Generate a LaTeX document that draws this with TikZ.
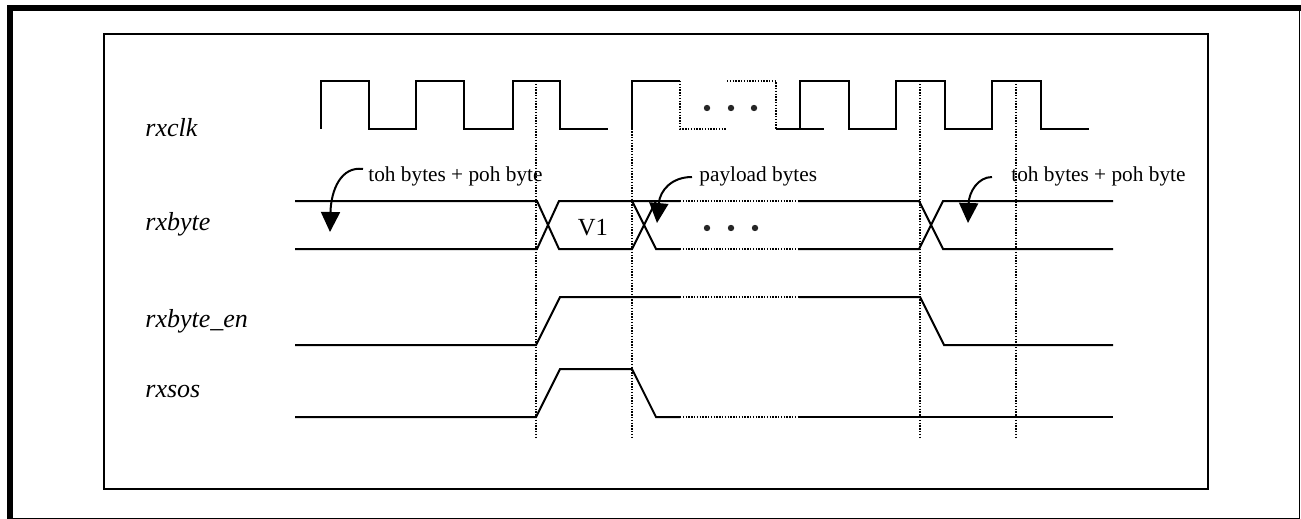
\documentclass[tikz,border=0pt]{standalone}
\usepackage{fontspec}
\setmainfont{Liberation Serif}
\usetikzlibrary{arrows.meta}
\begin{document}
\begin{tikzpicture}[x=0.5pt,y=-0.5pt,
  sigline/.style={line width=1pt,line join=miter},
  dotline/.style={line width=0.8pt,dash pattern=on 0.7pt off 0.7pt},
  signame/.style={font=\fontsize{13}{15}\selectfont\itshape,anchor=base west,inner sep=0pt},
  note/.style={font=\fontsize{10.65}{12}\selectfont,anchor=base west,inner sep=0pt},
  callout/.style={line width=1pt,-{Triangle[length=10pt,width=9.5pt]}},
  dotmark/.style={fill=black!85,draw=none}]
\useasboundingbox (0,0) rectangle (1301,519);
% frames
\draw[line width=3pt] (10,519) -- (10,8.5) -- (1301,8.5);
\draw[line width=0.6pt] (1299.5,8.5) -- (1299.5,518.3) -- (10,518.3);
\draw[line width=1pt] (104.3,33.7) rectangle (1207.7,489);
% signal names
\node[signame] (nclk) at (145,136) {rxclk};
\node[signame] (nbyte) at (145,230) {rxbyte};
\node[signame] (nen) at (145,327) {rxbyte\_en};
\node[signame] (nsos) at (145,397) {rxsos};
% vertical dotted guides
\foreach \gx in {536,632,920,1016} \draw[dotline] (\gx,81) -- (\gx,438);
% clock
\draw[sigline] (321,129) -- (321,81) -- (369,81) -- (369,129) -- (416,129) -- (416,81) -- (464,81) -- (464,129) -- (513,129) -- (513,81) -- (560,81) -- (560,129) -- (608,129);
\draw[sigline] (632,129) -- (632,81) -- (680,81);
\draw[dotline] (680,81) -- (680,129) -- (727,129);
\draw[dotline] (727,81) -- (776,81) -- (776,129);
\draw[sigline] (776,129) -- (824,129);
\draw[sigline] (800,129) -- (800,81) -- (849,81) -- (849,129) -- (896,129) -- (896,81) -- (945,81) -- (945,129) -- (992,129) -- (992,81) -- (1041,81) -- (1041,129) -- (1089,129);
\foreach \dx in {707,731,754} \fill[dotmark] (\dx,108) circle (3.2);
% rxbyte
\draw[sigline] (295,201) -- (537,201) -- (559,249) -- (632,249) -- (656,201);
\draw[sigline] (295,249) -- (537,249) -- (559,201) -- (680,201);
\draw[sigline] (632,201) -- (656,249) -- (680,249);
\draw[dotline] (680,201) -- (798,201);
\draw[dotline] (680,249) -- (798,249);
\draw[sigline] (798,201) -- (919,201) -- (943,249) -- (1113,249);
\draw[sigline] (798,249) -- (919,249) -- (943,201) -- (1113,201);
\node[font=\fontsize{12.3}{14}\selectfont,anchor=base,inner sep=0pt] (v1) at (593,235) {V1};
\foreach \dx in {707,731,755} \fill[dotmark] (\dx,228) circle (3.2);
% rxbyte_en
\draw[sigline] (295,345) -- (536,345) -- (560,297) -- (680,297);
\draw[dotline] (680,297) -- (799,297);
\draw[sigline] (799,297) -- (920,297) -- (944,345) -- (1113,345);
% rxsos
\draw[sigline] (295,417) -- (536,417) -- (560,369) -- (632,369) -- (656,417) -- (680,417);
\draw[dotline] (680,417) -- (799,417);
\draw[sigline] (799,417) -- (1113,417);
% notes with callouts
\node[note] (t1) at (368,181) {toh bytes + poh byte};
\node[note] (t2) at (699,182) {payload bytes};
\node[note] (t3) at (1011,181) {toh bytes + poh byte};
\coordinate (a1) at (330,232);
\coordinate (a2) at (657,223);
\coordinate (a3) at (968,223);
\draw[callout] (363,169) .. controls (341,166) and (331,190) .. (a1);
\draw[callout] (692,177) .. controls (672,177) and (660,190) .. (a2);
\draw[callout] (992,177) .. controls (978,177) and (969,192) .. (a3);
\end{tikzpicture}
\end{document}
